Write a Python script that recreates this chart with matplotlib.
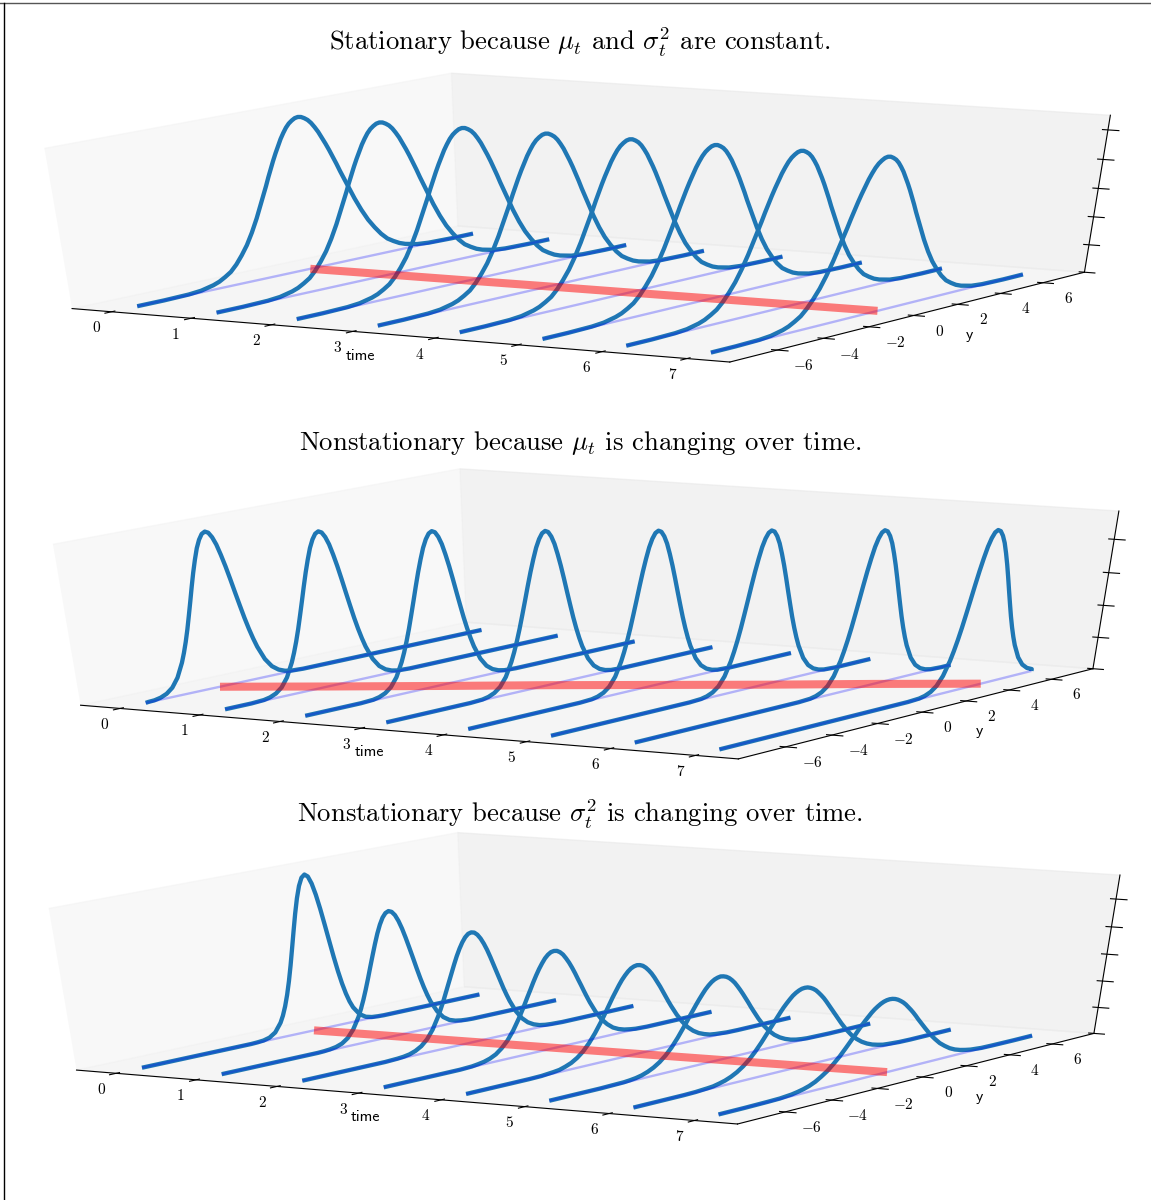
import numpy as np
import matplotlib
matplotlib.use('Agg')
import matplotlib.pyplot as plt
from matplotlib.lines import Line2D
from mpl_toolkits.mplot3d import Axes3D  # noqa

plt.rcParams['font.family'] = ['cmr10', 'DejaVu Serif']
plt.rcParams['mathtext.fontset'] = 'cm'
plt.rcParams['axes.unicode_minus'] = False

# values
times = [0, 1, 2, 3, 4, 5, 6, 7]
y_tick_values = [-6, -4, -2, 0, 2, 4, 6]
y_tick_labels = ['$-6$', '$-4$', '$-2$', '$0$', '$2$', '$4$', '$6$']
y_ends = [-7, 7]

# distance from the mean; each height list below runs over these
offsets = [0, .125, .25, .375, .5, .625, .75, .875, 1, 1.125, 1.25, 1.375, 1.5, 1.75, 2, 2.25,
           2.5, 2.75, 3, 3.25, 3.5, 3.75, 4, 4.5, 5, 6, 7, 12]

# top panel: same curve at every time
heights_top = [.266, .265, .262, .258, .252, .244, .235, .224, .213, .201, .188, .175, .161,
               .135, .109, .086, .066, .050, .036, .025, .018, .012, .008, .003, .001, 0, 0, 0]
means_top = [.05, .05, .05, .05, .05, .05, .05, .05]
red_top = [0, .04, .07, .11, .14, .18, .21, .25]

# middle panel: same curve, mean moves
heights_mid = [.469, .464, .449, .426, .394, .358, .318, .276, .235, .195, .159, .127, .099,
               .056, .029, .014, .006, .002, .001, 0, 0, 0, 0, 0, 0, 0, 0, 0]
means_mid = [-3.9, -2.7, -1.5, -0.3, 0.9, 2.1, 3.3, 4.5]
red_mid = [-4.05, -2.85, -1.6, -0.3, 0.9, 2.1, 3.4, 4.6]

# bottom panel: curve flattens with time
heights_bot = [
    [.574, .565, .538, .496, .443, .383, .321, .260, .204, .155, .114, .081, .056,
     .024, .009, .003, .001, 0, 0, 0, 0, 0, 0, 0, 0, 0, 0, 0],
    [.464, .459, .445, .422, .392, .356, .317, .277, .236, .197, .161, .129, .101,
     .059, .031, .015, .007, .003, .001, 0, 0, 0, 0, 0, 0, 0, 0, 0],
    [.408, .405, .395, .379, .358, .333, .304, .273, .242, .211, .180, .152, .126,
     .082, .050, .029, .016, .008, .004, .002, .001, 0, 0, 0, 0, 0, 0, 0],
    [.362, .360, .353, .342, .326, .308, .287, .264, .239, .215, .190, .166, .143,
     .102, .069, .045, .027, .016, .009, .005, .002, .001, 0, 0, 0, 0, 0, 0],
    [.332, .330, .325, .316, .304, .290, .273, .254, .235, .214, .193, .172, .152,
     .115, .083, .057, .038, .024, .015, .008, .005, .003, .001, 0, 0, 0, 0, 0],
    [.313, .311, .307, .300, .290, .278, .263, .247, .230, .212, .194, .175, .157,
     .122, .091, .066, .046, .031, .020, .012, .007, .004, .002, .001, 0, 0, 0, 0],
    [.294, .293, .289, .283, .275, .264, .252, .239, .224, .208, .192, .176, .160,
     .128, .099, .074, .054, .038, .026, .017, .011, .006, .004, .001, 0, 0, 0, 0],
    [.275, .274, .271, .266, .259, .251, .241, .229, .217, .204, .190, .175, .161,
     .133, .106, .083, .062, .046, .032, .022, .015, .010, .006, .002, .001, 0, 0, 0],
]
means_bot = [.1, .1, .1, .1, .1, .1, .1, .1]
red_bot = [-.08, -.02, .04, .09, .15, .2, .25, .3]

z_ticks_top = [0, .05, .10, .15, .20, .25]
z_ticks_mid = [0, .1, .2, .3, .4]
z_ticks_bot = [0, .1, .2, .3, .4, .5]
z_max_top = .2745
z_max_mid = .483
z_max_bot = .585

titles = [r'Stationary because $\mu_t$ and $\sigma_t^2$ are constant.',
          r'Nonstationary because $\mu_t$ is changing over time.',
          r'Nonstationary because $\sigma_t^2$ is changing over time.']

W, H = 1151, 1200


def panel(fig, left, bottom, width, height, heights, means, red, z_ticks, z_max):
    # left/bottom in pixels from top-left; old mplot3d look, cube stretched to the rectangle
    ax = fig.add_axes([left / W, 1 - bottom / H, width / W, height / H], projection='3d',
                      computed_zorder=False)
    ax.set_box_aspect((1, 1, 1), zoom=np.sqrt(3) / (1.8294640721620434 * 25 / 24))
    ax.apply_aspect = lambda position=None: None
    ax.view_init(elev=31, azim=-60)
    ax.patch.set_alpha(0)
    ax.grid(False)

    off = np.array(offsets)
    full_off = np.r_[-off[::-1], off[1:]]
    for i, t in enumerate(times):
        h = np.array(heights[i])
        full_h = np.r_[h[::-1], h[1:]]
        ys = np.clip(means[i] + full_off, y_ends[0], y_ends[1])
        ax.plot([t] * len(ys), ys, full_h, color='#1f77b4', lw=3.1, zorder=2,
                solid_capstyle='butt')
        ax.plot([t, t], y_ends, [0, 0], color='blue', alpha=.27, lw=1.7, zorder=3,
                solid_capstyle='butt')
    ax.plot(times, red, [0] * len(times), color='red', alpha=.5, lw=5.8,
            solid_capstyle='butt', zorder=4)

    ax.set_xlim(-.5, 7.5)
    ax.set_ylim(-8, 8)
    ax.set_zlim(0, z_max)
    ax.set_xticks(times)
    ax.set_yticks(y_tick_values)
    ax.set_yticklabels(y_tick_labels)
    ax.set_zticks(z_ticks)
    ax.set_zticklabels([])
    ax.tick_params(labelsize=11, pad=5)
    return ax


def main():
    fig = plt.figure(figsize=(W / 100, H / 100), dpi=100)

    panel(fig, -136, 388.5, 1406, 342, [heights_top] * 8, means_top, red_top, z_ticks_top, z_max_top)
    panel(fig, -127.5, 785.5, 1406, 343.5, [heights_mid] * 8, means_mid, red_mid, z_ticks_mid, z_max_mid)
    panel(fig, -132.6, 1150.7, 1413, 345, heights_bot, means_bot, red_bot, z_ticks_bot, z_max_bot)

    for text, y in zip(titles, [42, 443, 814]):
        fig.text(580 / W, 1 - y / H, text, ha='center', va='center', fontsize=19.2)

    for x, y in [(360, 356), (369, 752), (365, 1117)]:
        fig.text(x / W, 1 - y / H, 'time', ha='center', va='center', fontsize=11.5, family='cmss10')
    for x, y in [(970, 335), (979, 731), (979, 1097)]:
        fig.text(x / W, 1 - y / H, 'y', ha='center', va='center', fontsize=11.5, family='cmss10')

    # frame left in the page
    fig.add_artist(Line2D([0, 1], [1 - 2.5 / H] * 2, color='#555555', lw=1))
    fig.add_artist(Line2D([4 / W] * 2, [0, 1 - 2.5 / H], color='black', lw=1))

    fig.savefig('out.png', dpi=100)


if __name__ == '__main__':
    main()
